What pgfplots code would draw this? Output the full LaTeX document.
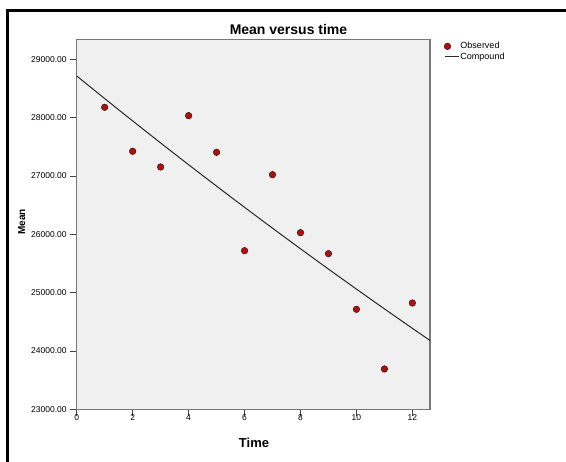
\documentclass[border=0pt]{standalone}
\usepackage{fontspec}
\setmainfont{Liberation Sans}
\usepackage{pgfplots}
\pgfplotsset{compat=1.18}
\definecolor{bg}{RGB}{240,240,240}
\definecolor{framec}{RGB}{120,120,120}
\definecolor{mk}{RGB}{170,18,18}
\definecolor{mkedge}{RGB}{60,20,20}
\definecolor{fitc}{RGB}{40,40,40}
\pgfplotsset{
  obs legend/.style={legend image code/.code={\draw[mark repeat=2,mark phase=2,##1] plot coordinates {(0pt,0pt) (2.5pt,0pt) (5pt,0pt)};}},
  fit legend/.style={legend image code/.code={\draw[##1] (0pt,0pt) -- (14pt,0pt);}},
}
\begin{document}
\begin{tikzpicture}[x=1pt,y=1pt]
\useasboundingbox (0,0) rectangle (566,462);
\draw[line width=2.8pt] (7.5,-10) -- (7.5,451.5) -- (580,451.5);
\begin{axis}[
  at={(76.7pt,52.7pt)}, anchor=south west,
  scale only axis, width=353.3pt, height=370pt,
  xmin=0, xmax=12.63, ymin=23000, ymax=29343,
  axis background/.style={fill=bg},
  axis line style={framec, line width=1.2pt},
  xtick={0,2,...,12}, ytick={23000,24000,...,29000},
  tick align=outside, major tick length=6.5pt,
  tick style={black!75, line width=0.9pt},
  tick pos=left,
  scaled y ticks=false,
  /pgf/number format/assume math mode=true,
  yticklabel style={/pgf/number format/fixed, /pgf/number format/fixed zerofill, /pgf/number format/precision=2, /pgf/number format/1000 sep={}},
  ticklabel style={font=\fontsize{8.5}{10}\selectfont},
  xticklabel style={yshift=5pt},
  legend style={at={(axis description cs:1.0396,0.995)}, anchor=north west, draw=none, fill=none, inner sep=0pt, row sep=0.5pt, font=\fontsize{9}{10}\selectfont, nodes={inner sep=1pt}},
  legend cell align=left,
]
\addplot[only marks, mark=*, mark size=3.3pt, mark options={fill=mk, draw=mkedge, line width=0.5pt}, obs legend]
  coordinates {(1,28177) (2,27423) (3,27154) (4,28034) (5,27406) (6,25719) (7,27022) (8,26028) (9,25668) (10,24714) (11,23691) (12,24822)};
\addlegendentry{Observed}
\addplot[fitc, line width=1pt, no marks, smooth, fit legend]
  coordinates {(0,28715) (1,28327) (2,27944) (3,27566) (4,27193) (5,26826) (6,26463) (7,26105) (8,25752) (9,25404) (10,25061) (11,24722) (12,24388) (12.63,24180)};
\addlegendentry{Compound}
\end{axis}
\node[font=\bfseries\fontsize{14}{16}\selectfont, anchor=base] at (288.5,427) {Mean versus time};
\node[font=\bfseries\fontsize{13}{15}\selectfont, anchor=base] at (254,14.7) {Time};
\node[font=\bfseries\fontsize{10}{12}\selectfont, anchor=base, rotate=90] at (25,240.3) {Mean};
\end{tikzpicture}
\end{document}
